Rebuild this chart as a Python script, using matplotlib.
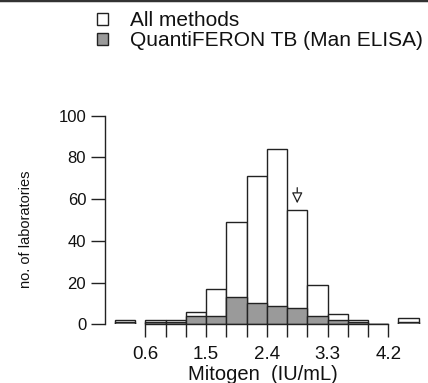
#!/usr/bin/env python3
from __future__ import annotations

import matplotlib

matplotlib.use("Agg")
import matplotlib.pyplot as plt
from matplotlib.lines import Line2D
from matplotlib.patches import Rectangle

plt.rcParams["font.family"] = ["Liberation Sans", "DejaVu Sans"]

# histogram bins (IU/mL), lower edges, width 0.3
bin_edges = [0.6, 0.9, 1.2, 1.5, 1.8, 2.1, 2.4, 2.7, 3.0, 3.3, 3.6, 3.9, 4.2]
all_counts = [2, 2, 6, 17, 49, 71, 84, 55, 19, 5, 2, 0]
qft_counts = [1, 1, 4, 4, 13, 10, 9, 8, 4, 2, 1, 0]

# results outside the plotted range (< 0.6 and > 4.2)
outside_pos = [0.15, 4.35]
outside_all = [2, 3]
outside_qft = [1, 1]

tick_values = bin_edges
tick_labels = ["0.6", "", "", "1.5", "", "", "2.4", "", "", "3.3", "", "", "4.2"]
y_ticks = [0, 20, 40, 60, 80, 100]

marker_value = 2.85  # arrow above the 2.7-3.0 bin
series_names = ["All methods", "QuantiFERON TB (Man ELISA)"]

EDGE = "#222222"
GREY = "#9a9a9a"
W, H = 428, 383


def _fx(px):
    return px / W


def _fy(py):
    # pixel row from the top -> figure fraction
    return 1 - py / H


def _legend(fig):
    fills = ["white", GREY]
    tops = [13.3, 33.0]
    baselines = [26.0, 45.5]
    for name, fc, top, base in zip(series_names, fills, tops, baselines):
        fig.add_artist(Rectangle((_fx(96.7), _fy(top + 11.7)), 11.7 / W, 11.7 / H,
                                 transform=fig.transFigure, facecolor=fc, edgecolor=EDGE, lw=1.0))
        fig.text(_fx(130), _fy(base), name, fontsize=15, va="baseline", ha="left", color="#111111")


def _plot(out: str = "out.png"):
    fig = plt.figure(figsize=(W / 100, H / 100), dpi=100)
    ax = fig.add_axes([_fx(105), _fy(324.3), 320.4 / W, 208.6 / H])

    bw = bin_edges[1] - bin_edges[0]
    lefts = bin_edges[:-1]
    ax.bar(lefts, all_counts, width=bw, align="edge", color="white", edgecolor=EDGE, linewidth=1.0)
    ax.bar(lefts, qft_counts, width=bw, align="edge", color=GREY, edgecolor=EDGE, linewidth=1.0)
    ax.bar(outside_pos, outside_all, width=bw, align="edge", color="white", edgecolor=EDGE, linewidth=1.0)
    ax.bar(outside_pos, outside_qft, width=bw, align="edge", color=GREY, edgecolor=EDGE, linewidth=1.0)

    ax.annotate(
        "",
        xy=(marker_value, 58), xytext=(marker_value, 65.5),
        arrowprops=dict(arrowstyle="-|>,head_length=0.65,head_width=0.32", mutation_scale=10,
                        fc="white", ec=EDGE, lw=0.9, shrinkA=0, shrinkB=0),
    )

    ax.set_xlim(0, 4.75)
    ax.set_ylim(0, 100)
    for s in ("top", "right"):
        ax.spines[s].set_visible(False)
    ax.spines["left"].set_bounds(0, 100)
    ax.spines["bottom"].set_bounds(bin_edges[0], bin_edges[-1])
    for s in ("left", "bottom"):
        ax.spines[s].set_color(EDGE)
        ax.spines[s].set_linewidth(1.0)

    ax.set_xticks(tick_values)
    ax.set_xticklabels(tick_labels)
    ax.set_yticks(y_ticks)
    ax.tick_params(axis="x", length=9.5, width=1.0, color=EDGE, pad=6, labelsize=13.5, labelcolor="#111111")
    ax.tick_params(axis="y", length=10, width=1.0, color=EDGE, pad=3.5, labelsize=12, labelcolor="#111111")

    ax.set_xlabel("Mitogen  (IU/mL)", fontsize=14.5, color="#111111")
    ax.xaxis.set_label_coords(0.493, -0.267)
    ax.xaxis.label.set_va("baseline")
    ax.set_ylabel("no. of laboratories", fontsize=10.5, color="#111111")
    ax.yaxis.set_label_coords(-0.225, 0.4545)

    _legend(fig)

    # dark rule along the top edge
    fig.add_artist(Line2D([0, 1], [1, 1], transform=fig.transFigure, color="#333333", lw=2.5))

    fig.savefig(out, dpi=100)
    plt.close(fig)


def main() -> int:
    _plot()
    return 0


if __name__ == "__main__":
    raise SystemExit(main())
